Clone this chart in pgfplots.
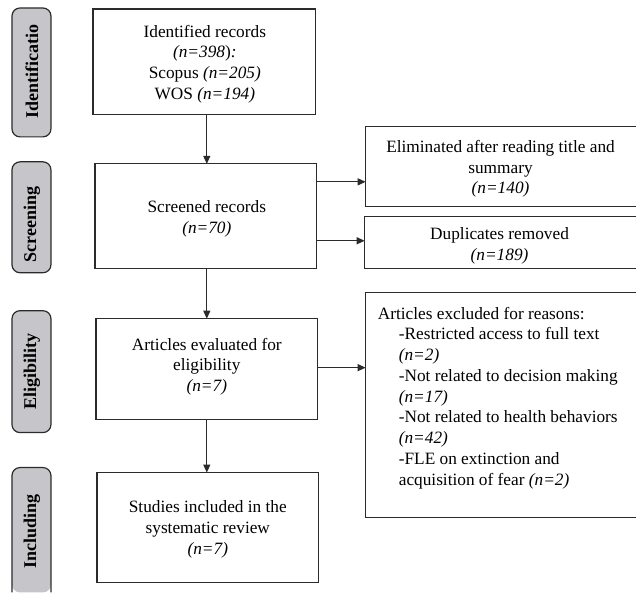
\documentclass[border=0pt]{standalone}
\usepackage{pgfplots}
\pgfplotsset{compat=1.18}
\usepackage{fontspec}
\setmainfont{Liberation Serif}
\usetikzlibrary{arrows.meta}
\definecolor{edge}{HTML}{2B2B2B}
\definecolor{stage}{HTML}{C6C6CA}

\begin{document}
\begin{tikzpicture}
\begin{axis}[
  scale only axis, width=637pt, height=593pt,
  xmin=0, xmax=637, ymin=0, ymax=593, y dir=reverse,
  hide axis, clip=false,
]
% fix the page to the whole 637 x 593 area
\path (axis cs:0,0) rectangle (axis cs:637,593);

% stage labels on the left
\draw[edge, fill=stage, line width=1.2pt, rounded corners=8pt]
  (axis cs:12,8) rectangle (axis cs:51,137);
\draw[edge, fill=stage, line width=1.2pt, rounded corners=8pt]
  (axis cs:12,162) rectangle (axis cs:51,273);
\draw[edge, fill=stage, line width=1.2pt, rounded corners=8pt]
  (axis cs:12,311) rectangle (axis cs:51,433);
\fill[stage, rounded corners=8pt]
  (axis cs:12,593) -- (axis cs:12,468) -- (axis cs:51,468) -- (axis cs:51,593) -- cycle;
\draw[edge, line width=1.2pt, rounded corners=8pt]
  (axis cs:12,593) -- (axis cs:12,468) -- (axis cs:51,468) -- (axis cs:51,593);

\begin{scope}[every node/.style={rotate=90, font=\fontsize{18}{20}\selectfont\bfseries}]
\node at (axis cs:32,72) {Identificatio};
\node at (axis cs:32,225) {Screening};
\node at (axis cs:32,372) {Eligibility};
\node at (axis cs:32,532) {Including};
\end{scope}

% main column
\draw[edge, line width=1.2pt] (axis cs:93,9) rectangle (axis cs:316,115);
\draw[edge, line width=1.2pt] (axis cs:95,164) rectangle (axis cs:317,269);
\draw[edge, line width=1.2pt] (axis cs:96,319) rectangle (axis cs:318,420);
\draw[edge, line width=1.2pt] (axis cs:97,473) rectangle (axis cs:319,583);

\begin{scope}[every node/.style={align=center, font=\fontsize{17.3}{20.7}\selectfont}]
\node at (axis cs:205,64) {Identified records\\ \textit{(n=398})\textit{:}\\ Scopus \textit{(n=205)}\\ WOS \textit{(n=194)}};
\node at (axis cs:207,219) {Screened records\\ \textit{(n=70)}};
\node at (axis cs:207,367) {Articles evaluated for\\ eligibility\\ \textit{(n=7)}};
\node at (axis cs:208,530) {Studies included in the\\ systematic review\\ \textit{(n=7)}};
\node at (axis cs:501,169) {Eliminated after reading title and\\ summary\\ \textit{(n=140)}};
\node at (axis cs:500,246) {Duplicates removed\\ \textit{(n=189)}};
\end{scope}

% right column (cut by the right edge)
\draw[edge, line width=1.2pt] (axis cs:637,127) -- (axis cs:366,127) -- (axis cs:366,207) -- (axis cs:637,207);
\draw[edge, line width=1.2pt] (axis cs:637,217) -- (axis cs:365,217) -- (axis cs:365,269) -- (axis cs:637,269);
\draw[edge, line width=1.2pt] (axis cs:637,293) -- (axis cs:366,293) -- (axis cs:366,518) -- (axis cs:637,518);

\node[anchor=north west, align=left, inner sep=0pt, font=\fontsize{17.3}{20.8}\selectfont]
  at (axis cs:378,307) {Articles excluded for reasons:\\
  \hspace*{21pt}-Restricted access to full text\\
  \hspace*{21pt}\textit{(n=2)}\\
  \hspace*{21pt}-Not related to decision making\\
  \hspace*{21pt}\textit{(n=17)}\\
  \hspace*{21pt}-Not related to health behaviors\\
  \hspace*{21pt}\textit{(n=42)}\\
  \hspace*{21pt}-FLE on extinction and\\
  \hspace*{21pt}acquisition of fear \textit{(n=2)}};

% arrows
\begin{scope}[edge, line width=1.2pt, -{Triangle[length=8pt,width=7pt]}]
\draw (axis cs:207,115) -- (axis cs:207,164);
\draw (axis cs:207,269) -- (axis cs:207,319);
\draw (axis cs:207,420) -- (axis cs:207,473);
\draw (axis cs:317,182) -- (axis cs:366,182);
\draw (axis cs:317,241) -- (axis cs:365,241);
\draw (axis cs:318,368) -- (axis cs:366,368);
\end{scope}
\end{axis}
\end{tikzpicture}
\end{document}
